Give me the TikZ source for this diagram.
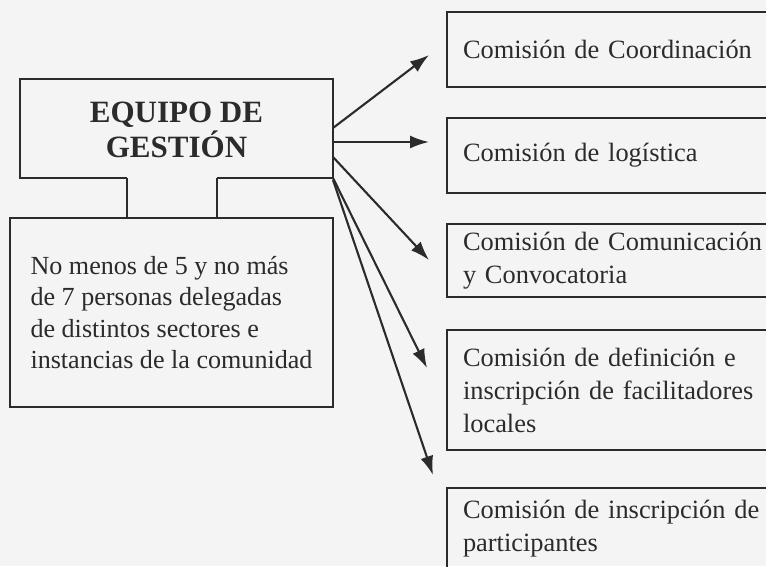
\documentclass[tikz,border=0pt]{standalone}
\usepackage{fontspec}
\setmainfont{Liberation Serif}
\usetikzlibrary{arrows.meta}
\definecolor{ink}{HTML}{2B2B2B}
\definecolor{paper}{HTML}{F4F4F4}
\begin{document}
\begin{tikzpicture}[x=1pt,y=-1pt,
  line/.style={draw=ink, line width=2.1pt},
  box/.style={line, text=ink, font=\fontsize{26.4}{33}\selectfont, align=left,
    inner xsep=16pt, inner ysep=0pt, outer sep=0pt, text width=300pt, anchor=west},
  arr/.style={line, -{Latex[length=19pt,width=13pt]}}]
\fill[paper] (0,0) rectangle (766,566);
\useasboundingbox (0,0) rectangle (766,566);
\clip (0,0) rectangle (766,566);

% left: team
\node[minimum width=313pt, minimum height=99pt, inner sep=0pt, outer sep=0pt,
  text=ink, font=\bfseries\fontsize{31}{35}\selectfont, align=center]
  (equipo) at (176.5,129.5) {EQUIPO DE\\GESTIÓN};
\coordinate (nl) at (127,178);
\coordinate (nr) at (217,178);
\draw[line] (nl) -- (nl -| equipo.west) -- (equipo.west |- 0,79) -- (equipo.east |- 0,79)
  -- (equipo.east |- nl) -- (nr);

\node[box, text width=, inner xsep=0pt, minimum width=323pt, minimum height=189pt,
  font=\fontsize{26.1}{31.5}\selectfont, anchor=north west]
  (grupo) at (10,218) {No menos de 5 y no más\\de 7 personas delegadas\\de distintos sectores e\\instancias de la comunidad};
\draw[line] (nl) -- (nl |- grupo.north);
\draw[line] (nr) -- (nr |- grupo.north);

% right: commissions
\node[box, minimum height=75pt] (c1) at (447,49.5) {Comisión de Coordinación};
\node[box, minimum height=75pt] (c2) at (447,155.5) {Comisión de logística};
\node[box, minimum height=73pt] (c3) at (447,260.5) {Comisión de Comunicación\\y Convocatoria};
\node[box, minimum height=120pt] (c4) at (447,390) {Comisión de definición e\\inscripción de facilitadores\\locales};
\node[box, minimum height=82pt] (c5) at (447,529) {Comisión de inscripción de\\participantes};

% arrows
\coordinate (t1) at (429,55);
\coordinate (t2) at (429,142);
\coordinate (t3) at (429,260);
\coordinate (t4) at (427,368);
\coordinate (t5) at (433,475);
\draw[arr] (equipo.east |- 0,128) -- (t1);
\draw[arr] (equipo.east |- 0,142) -- (t2);
\draw[arr] (equipo.east |- 0,157) -- (t3);
\draw[arr] (equipo.east |- nl) -- (t4);
\draw[arr] (equipo.east |- 0,180) -- (t5);
\end{tikzpicture}
\end{document}
